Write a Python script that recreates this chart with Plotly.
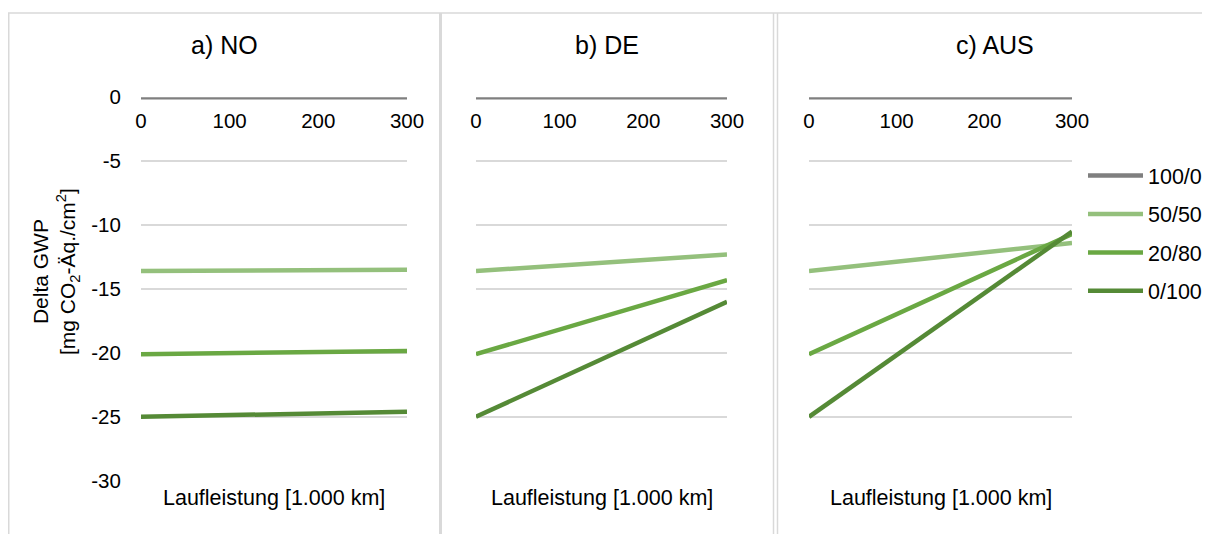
import plotly.graph_objects as go

# ---------------- data ----------------
x_km = [0, 300]
x_ticks = [0, 100, 200, 300]
y_ticks = [0, -5, -10, -15, -20, -25, -30]
y_tick_text = ["0", "-5", "-10", "-15", "-20", "-25", "-30"]
panel_titles = ["a) NO", "b) DE", "c) AUS"]
series_names = ["100/0", "50/50", "20/80", "0/100"]

no_100_0 = [0, 0]
no_50_50 = [-13.6, -13.5]
no_20_80 = [-20.1, -19.85]
no_0_100 = [-25.0, -24.6]

de_100_0 = [0, 0]
de_50_50 = [-13.6, -12.3]
de_20_80 = [-20.1, -14.3]
de_0_100 = [-25.0, -16.0]

aus_100_0 = [0, 0]
aus_50_50 = [-13.6, -11.4]
aus_20_80 = [-20.1, -10.7]
aus_0_100 = [-25.0, -10.5]

x_title = "Laufleistung [1.000 km]"
y_title = "Delta GWP<br>[mg CO<sub>2</sub>-Äq./cm<sup>2</sup>]"

# ---------------- styling ----------------
OFF = 8                      # page body margin of the viewer
W, H = 1210 - OFF, 534 - OFF
FONT = "Liberation Sans, Arial, sans-serif"
colors = ["#7f7f7f", "#94c07c", "#6aa843", "#558a36"]
grid_col = "#d9d9d9"
txt_col = "#000000"


def px(x):
    return (x - OFF) / W


def py(y):
    return 1 - (y - OFF) / H


panel_series = [
    [no_100_0, no_50_50, no_20_80, no_0_100],
    [de_100_0, de_50_50, de_20_80, de_0_100],
    [aus_100_0, aus_50_50, aus_20_80, aus_0_100],
]
# plot-area extents in (screen) pixels
x_dom = [(141, 407), (476, 727), (809, 1072)]
y_top, y_bot = 97.3, 480.7

fig = go.Figure()

for p, series in enumerate(panel_series):
    sfx = "" if p == 0 else str(p + 1)
    for s, (name, vals) in enumerate(zip(series_names, series)):
        fig.add_trace(go.Scatter(
            x=x_km, y=vals, mode="lines", name=name,
            line=dict(color=colors[s], width=4.5),
            legendgroup=name, showlegend=(p == 0),
            xaxis="x" + sfx, yaxis="y" + sfx,
        ))

layout = dict(
    template="none",
    width=W, height=H,
    margin=dict(l=0, r=0, t=0, b=0, pad=0, autoexpand=False),
    paper_bgcolor="white", plot_bgcolor="white",
    font=dict(family=FONT, size=20, color=txt_col),
    legend=dict(
        x=px(1083), y=py(155), xanchor="left", yanchor="top",
        font=dict(size=21.5, color=txt_col), traceorder="grouped", tracegroupgap=7.5,
        itemwidth=55,
        bgcolor="rgba(0,0,0,0)", borderwidth=0,
    ),
    shapes=[],
    annotations=[],
)

for p in range(3):
    sfx = "" if p == 0 else str(p + 1)
    x0, x1 = x_dom[p]
    layout["xaxis" + sfx] = dict(
        domain=[px(x0), px(x1)], range=[0, 300], anchor="free",
        position=py(y_top), side="bottom", automargin=False,
        tickmode="array", tickvals=x_ticks, ticktext=[str(v) for v in x_ticks],
        ticks="outside", ticklen=5, tickcolor="rgba(0,0,0,0)",
        showgrid=False, zeroline=False, showline=False,
        tickfont=dict(size=20.5, color=txt_col),
    )
    layout["yaxis" + sfx] = dict(
        domain=[py(y_bot), py(y_top)], range=[-30, 0], anchor="x" + sfx,
        automargin=False,
        tickmode="array", tickvals=y_ticks, ticktext=y_tick_text,
        showgrid=True, gridcolor=grid_col, gridwidth=1.5,
        zeroline=False, showline=False,
        ticks="outside", ticklen=15, tickcolor="rgba(0,0,0,0)",
        showticklabels=(p == 0),
        tickfont=dict(size=20.5, color=txt_col),
    )
    # axis title under each panel
    layout["annotations"].append(dict(
        text=x_title, x=px((x0 + x1) / 2), y=py(498), xref="paper", yref="paper",
        showarrow=False, xanchor="center", yanchor="middle",
        font=dict(size=21.5, color=txt_col),
    ))

# panel titles
title_x = [224, 607, 995]
for t, tx in zip(panel_titles, title_x):
    layout["annotations"].append(dict(
        text=t, x=px(tx), y=py(45), xref="paper", yref="paper",
        showarrow=False, xanchor="center", yanchor="middle",
        font=dict(size=25, color=txt_col),
    ))

# y-axis title
layout["annotations"].append(dict(
    text=y_title, x=px(56), y=py(272), xref="paper", yref="paper",
    showarrow=False, xanchor="center", yanchor="middle", textangle=-90,
    font=dict(size=21, color=txt_col),
))

# panel frames
frame = dict(type="line", xref="paper", yref="paper", line=dict(color=grid_col, width=1.5))
layout["shapes"] += [
    dict(frame, x0=px(8), x1=1, y0=py(13), y1=py(13)),
    dict(frame, x0=px(8.75), x1=px(8.75), y0=py(13), y1=0),
    dict(frame, x0=px(440.5), x1=px(440.5), y0=py(13), y1=0, line=dict(color=grid_col, width=3)),
    dict(frame, x0=px(773.5), x1=px(773.5), y0=py(13), y1=0),
    dict(frame, x0=px(777.5), x1=px(777.5), y0=py(13), y1=0),
]

fig.update_layout(**layout)
fig.write_html("out.html")
